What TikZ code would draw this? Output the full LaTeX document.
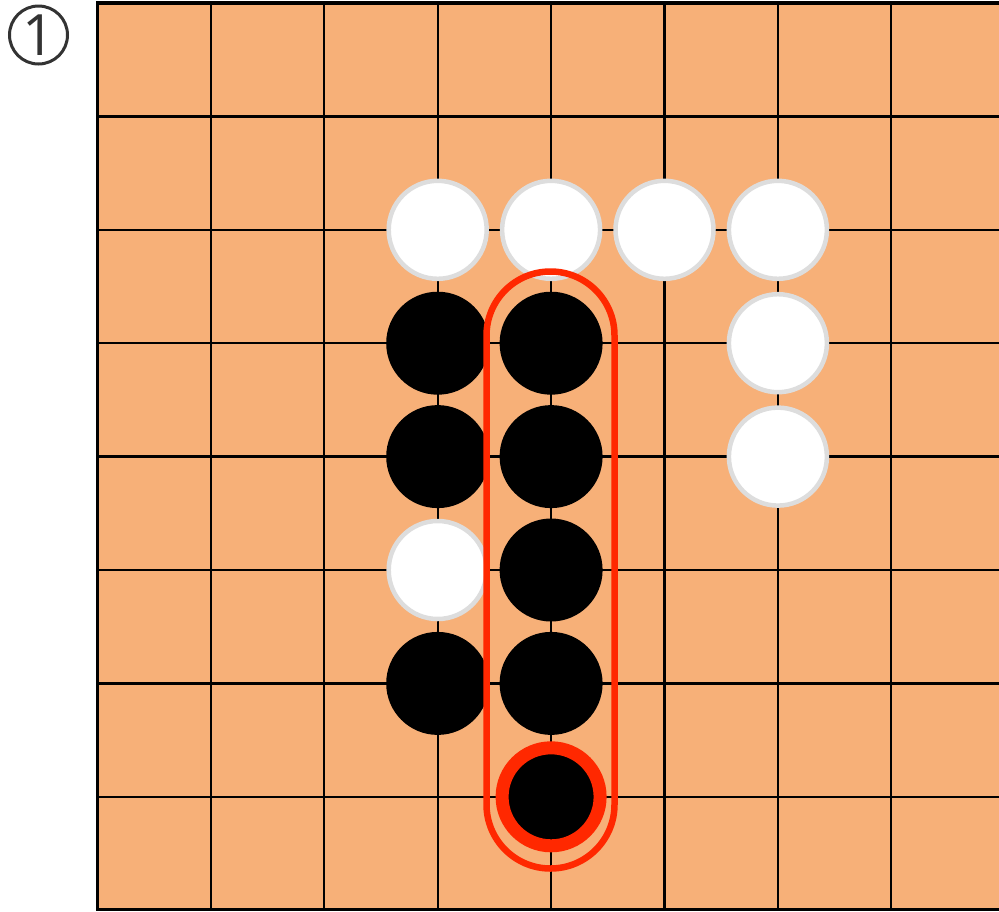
\documentclass[tikz,border=0pt]{standalone}
\usepackage{fontspec}
\newfontfamily\numfont{Open Sans}
\definecolor{board}{RGB}{247,176,120}
\definecolor{hilite}{RGB}{255,40,0}
\definecolor{wedge}{RGB}{221,221,221}
\definecolor{numgray}{RGB}{51,51,51}
\tikzset{
  wstone/.style={circle, fill=white, draw=wedge, line width=4.5pt, minimum size=98pt, inner sep=0pt},
  bstone/.style={circle, fill=black, minimum size=103pt, inner sep=0pt},
  laststone/.style={circle, fill=black, draw=hilite, line width=13pt, minimum size=98pt, inner sep=0pt},
  gridline/.style={black, line width=2.3pt},
  numbadge/.style={circle, draw=numgray, line width=3pt, minimum size=58pt, inner sep=0pt, text=numgray, font=\numfont\fontsize{57}{57}\selectfont}
}
\begin{document}
\begin{tikzpicture}[x=1pt,y=-1pt]
\useasboundingbox (0,0) rectangle (999,911);
% board
\fill[board] (97.5,3) rectangle (1005,909.5);
\foreach \i in {1,...,7} {
  \draw[gridline] ({97.5+113.4*\i},3) -- ({97.5+113.4*\i},909.5);
}
\foreach \j in {1,...,7} {
  \draw[gridline] (97.5,{3+113.4*\j}) -- (1005,{3+113.4*\j});
}
\draw[black, line width=3.5pt] (1005,3) -- (97.5,3) -- (97.5,909.5) -- (1005,909.5);
% badge
\node[numbadge] (badge) at (38.5,35) {\raisebox{-1pt}{1}};
% white stones
\node[wstone] (w1) at (437.7,229.8) {};
\node[wstone] (w2) at (551.1,229.8) {};
\node[wstone] (w3) at (664.5,229.8) {};
\node[wstone] (w4) at (777.9,229.8) {};
\node[wstone] (w5) at (777.9,343.2) {};
\node[wstone] (w6) at (777.9,456.6) {};
\node[wstone] (w7) at (437.7,570) {};
% black stones
\node[bstone] (b1) at (437.7,343.2) {};
\node[bstone] (b2) at (551.1,343.2) {};
\node[bstone] (b3) at (437.7,456.6) {};
\node[bstone] (b4) at (551.1,456.6) {};
\node[bstone] (b5) at (551.1,570) {};
\node[bstone] (b6) at (437.7,683.4) {};
\node[bstone] (b7) at (551.1,683.4) {};
% highlight frame
\draw[hilite, line width=6.5pt, rounded corners=63.9pt] (486.5,271.5) rectangle (614.5,868.5);
% last stone
\node[laststone] (b8) at (551.1,796.8) {};
\end{tikzpicture}
\end{document}
